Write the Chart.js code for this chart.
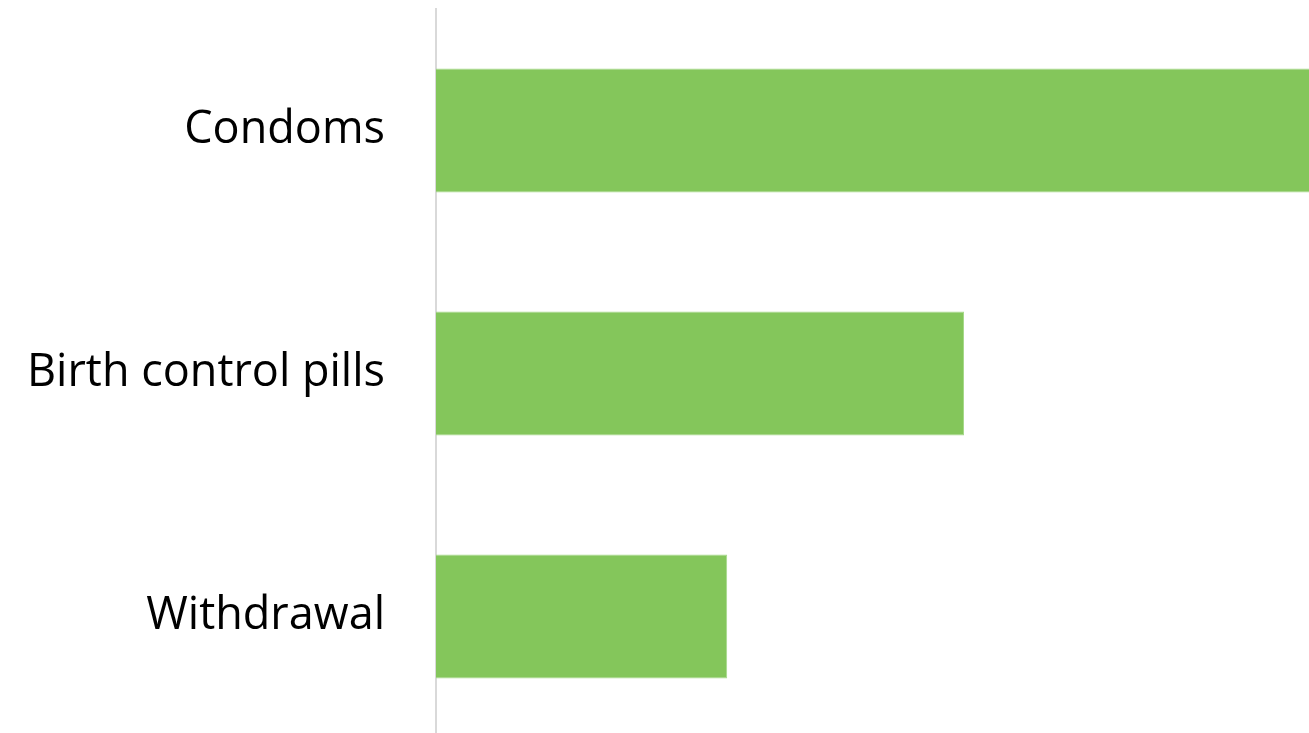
<!DOCTYPE html>
<html>
<head>
<meta charset="utf-8">
<script src="https://cdn.jsdelivr.net/npm/chart.js@4"></script>
<style>
  html, body { margin: 0; padding: 0; overflow: hidden; background: #fff; }
  #wrap { position: absolute; left: 0; top: 0; width: 1492px; height: 750px; }
</style>
</head>
<body>
<div id="wrap"><canvas id="myChart"></canvas></div>
<script>
var methods = ["Condoms", "Birth control pills", "Withdrawal"];
var percentUsed = [62, 33, 18.2];

var ctx = document.getElementById("myChart");

var myChart = new Chart(ctx, {
    type: 'bar',
    data: {
        labels: methods,
        datasets: [{
            data: percentUsed,
            backgroundColor: '#84c65b',
            borderColor: '#a6d98a',
            borderWidth: 1,
            borderSkipped: 'left',
            categoryPercentage: 1,
            barPercentage: 0.51
        }]
    },
    options: {
        indexAxis: 'y',
        responsive: true,
        maintainAspectRatio: false,
        animation: false,
        layout: {
            padding: { top: 9, bottom: 12, left: 0, right: 0 }
        },
        plugins: {
            legend: { display: false },
            tooltip: { enabled: false }
        },
        scales: {
            x: {
                display: false,
                min: 0,
                max: 66
            },
            y: {
                grid: { display: false },
                border: { display: true, color: '#d9d9d9', width: 2 },
                ticks: {
                    color: '#000',
                    padding: 43,
                    font: { family: 'Open Sans', size: 45 }
                },
                afterFit: function (scale) {
                    scale.width = 436;
                    // labels sit inside their categories, no extra room needed
                    scale.paddingTop = 0;
                    scale.paddingBottom = 0;
                }
            }
        }
    }
});
</script>
</body>
</html>
